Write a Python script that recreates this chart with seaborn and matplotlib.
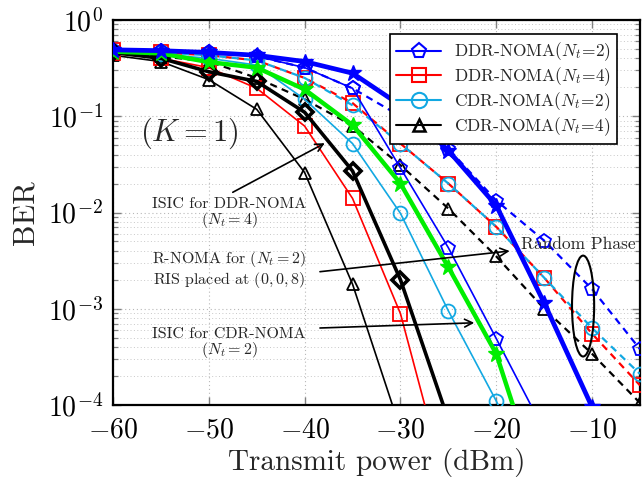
import numpy as np
import pandas as pd
import matplotlib
matplotlib.use("Agg")
import matplotlib.pyplot as plt
from matplotlib.patches import Ellipse
from matplotlib.ticker import FixedLocator, FixedFormatter, LogLocator, NullFormatter
import seaborn as sns

# ---------------- data ----------------
power = [-60, -55, -50, -45, -40, -35, -30, -25, -20, -15, -10, -5]

ddr2_thick = [0.49, 0.48, 0.46, 0.43, 0.37, 0.28, 0.13, 0.044, 0.0118, 1.15e-3, 9.5e-5, 8e-6]
ddr2_rand = [0.49, 0.48, 0.46, 0.42, 0.32, 0.195, 0.10, 0.046, 0.0133, 5.1e-3, 1.6e-3, 3.8e-4]
ddr2_thin = [0.49, 0.48, 0.46, 0.42, 0.32, 0.195, 0.029, 4.3e-3, 4.9e-4, 5.4e-5, None, None]
ddr4 = [0.45, 0.40, 0.32, 0.195, 0.079, 0.014, 8.9e-4, 1.2e-5, None, None, None, None]
ddr4_rand = [0.49, 0.46, 0.43, 0.38, 0.25, 0.137, 0.052, 0.020, 7.1e-3, 2.1e-3, 5.5e-4, 1.6e-4]
cdr2 = [0.48, 0.44, 0.40, 0.34, 0.15, 0.052, 9.8e-3, 9.5e-4, 1.1e-4, 1e-5, None, None]
cdr2_rand = [0.48, 0.46, 0.43, 0.38, 0.25, 0.13, 0.052, 0.020, 7.1e-3, 2.1e-3, 6.3e-4, 2.1e-4]
cdr4 = [0.43, 0.37, 0.24, 0.118, 0.026, 1.8e-3, 5.6e-5, None, None, None, None, None]
cdr4_rand = [0.46, 0.42, 0.37, 0.25, 0.15, 0.08, 0.031, 0.011, 3.5e-3, 1.0e-3, 3.4e-4, 1.05e-4]
isic_ddr4 = [0.46, 0.40, 0.29, 0.23, 0.11, 0.027, 2.0e-3, 7e-5, None, None, None, None]
rnoma2 = [0.47, 0.45, 0.365, 0.32, 0.19, 0.081, 0.02, 2.7e-3, 3.4e-4, 1e-5, None, None]

xticks = [-60, -50, -40, -30, -20, -10]
xtick_labels = [r"$-60$", r"$-50$", r"$-40$", r"$-30$", r"$-20$", r"$-10$"]
legend_labels = [r"DDR-NOMA$(N_t\!=\!2)$", r"DDR-NOMA$(N_t\!=\!4)$",
                 r"CDR-NOMA$(N_t\!=\!2)$", r"CDR-NOMA$(N_t\!=\!4)$"]

# ---------------- style ----------------
sns.set_theme(style="ticks")
plt.rcParams["font.family"] = ["cmr10", "DejaVu Serif"]
plt.rcParams["mathtext.fontset"] = "cm"
plt.rcParams["axes.unicode_minus"] = False
plt.rcParams["axes.formatter.use_mathtext"] = True

BLUE = "#0000ff"
RED = "#ff0000"
CYAN = "#12a8e2"
BLACK = "#000000"
GREEN = "#00ee00"

fig = plt.figure(figsize=(6.44, 4.8), dpi=100)
ax = fig.add_axes([113 / 644, 75 / 480, 527 / 644, 385 / 480])


def draw(vals, color, marker, lw, ls="-", ms=9, mfc="none", mew=1.3, z=3, label=None):
    df = pd.DataFrame({"x": power, "y": vals}).dropna()
    sns.lineplot(data=df, x="x", y="y", ax=ax, color=color, lw=lw, linestyle=ls,
                 marker=marker, markersize=ms, markerfacecolor=mfc,
                 markeredgecolor=color, markeredgewidth=mew, zorder=z,
                 label=label, legend=False)


dash = (3.2, 2.4)
# random-phase dashed curves
draw(cdr4_rand, BLACK, "^", 1.6, ls=(0, dash), ms=8, z=3)
draw(ddr4_rand, RED, "s", 1.6, ls=(0, dash), ms=10, z=3)
draw(cdr2_rand, CYAN, "o", 1.6, ls=(2.5, dash), ms=10, z=3.1)
draw(ddr2_rand, BLUE, "p", 1.6, ls=(0, dash), ms=10, z=3)
# solid curves
draw(cdr4, BLACK, "^", 1.2, ms=8, z=4)
draw(ddr4, RED, "s", 1.2, ms=10, z=4)
draw(cdr2, CYAN, "o", 1.2, ms=10, z=4)
draw(ddr2_thin, BLUE, "p", 1.2, ms=10, z=4)
draw(isic_ddr4, BLACK, "D", 2.6, ms=8, mew=2.6, z=5)
draw(rnoma2, GREEN, "*", 3.2, ms=12, mfc=GREEN, mew=1.0, z=5)
draw(ddr2_thick, BLUE, "*", 3.4, ms=12, mfc=BLUE, mew=1.0, z=6)

ax.set_yscale("log")
ax.set_xlim(-60, -5)
ax.set_ylim(1e-4, 1)

ax.xaxis.set_major_locator(FixedLocator(xticks))
ax.xaxis.set_major_formatter(FixedFormatter(xtick_labels))
ax.yaxis.set_major_locator(LogLocator(base=10, numticks=10))
ax.yaxis.set_minor_locator(LogLocator(base=10, subs=np.arange(2, 10), numticks=20))
ax.yaxis.set_minor_formatter(NullFormatter())

ax.grid(True, which="major", axis="both", color="#b8b8b8", ls=(0, (1, 2.5)), lw=0.8)
ax.grid(True, which="minor", axis="y", color="#c8c8c8", ls=(0, (1, 2.5)), lw=0.7)
ax.set_axisbelow(True)

ax.tick_params(axis="both", which="both", direction="in", top=True, right=True,
               colors="#808080", labelcolor="black", labelsize=20)
ax.tick_params(axis="x", which="major", pad=9)
ax.tick_params(axis="y", which="major", pad=7)
ax.tick_params(which="major", length=6, width=1.0)
ax.tick_params(which="minor", length=3.5, width=0.9)
for s in ax.spines.values():
    s.set_color("black")
    s.set_linewidth(1.6)

ax.set_xlabel("Transmit power (dBm)", fontsize=21, labelpad=3)
ax.set_ylabel("BER", fontsize=22, labelpad=6)

# legend
handles = [
    plt.Line2D([], [], color=BLUE, lw=1.5, marker="p", ms=11, mfc="none", mew=1.5),
    plt.Line2D([], [], color=RED, lw=1.5, marker="s", ms=10, mfc="none", mew=1.5),
    plt.Line2D([], [], color=CYAN, lw=1.5, marker="o", ms=11, mfc="none", mew=1.5),
    plt.Line2D([], [], color=BLACK, lw=1.5, marker="^", ms=9, mfc="none", mew=1.8),
]
leg = ax.legend(handles, legend_labels, loc="upper right", bbox_to_anchor=(0.972, 0.985),
                fontsize=12.5, frameon=True, fancybox=False, framealpha=1,
                edgecolor="black", handlelength=2.6, handleheight=0.6,
                borderpad=0.35, labelspacing=0.12, handletextpad=0.7)
leg.get_frame().set_linewidth(1.2)
leg.set_zorder(10)

# annotations
ax.text(-52.0, 10 ** (-1.18), r"$(K=1)$", fontsize=22, ha="center", va="center")

tfs = 11.5
ax.text(-47.9, 10 ** (-1.91), "ISIC for DDR-NOMA", fontsize=tfs, ha="center", va="center")
ax.text(-47.9, 10 ** (-2.08), r"$(N_t=4)$", fontsize=tfs, ha="center", va="center")
ax.text(-47.9, 10 ** (-2.48), r"R-NOMA for $(N_t=2)$", fontsize=tfs, ha="center", va="center")
ax.text(-47.9, 10 ** (-2.70), r"RIS placed at $(0,0,8)$", fontsize=tfs, ha="center", va="center")
ax.text(-47.9, 10 ** (-3.26), "ISIC for CDR-NOMA", fontsize=tfs, ha="center", va="center")
ax.text(-47.9, 10 ** (-3.43), r"$(N_t=2)$", fontsize=tfs, ha="center", va="center")
ax.text(-17.4, 10 ** (-2.33), "Random Phase", fontsize=12.5, ha="left", va="center", clip_on=False)

arrow = dict(arrowstyle="->", color="black", lw=1.2, mutation_scale=14, shrinkA=0, shrinkB=0)
ax.annotate("", xy=(-37.9, 10 ** (-1.28)), xytext=(-47.5, 10 ** (-1.79)), arrowprops=arrow, zorder=7)
ax.annotate("", xy=(-18.6, 10 ** (-2.40)), xytext=(-38.4, 10 ** (-2.615)), arrowprops=arrow, zorder=7)
ax.annotate("", xy=(-22.3, 10 ** (-3.146)), xytext=(-38.4, 10 ** (-3.2)), arrowprops=arrow, zorder=7)

ell = Ellipse((0.892, 0.257), 0.042, 0.262, transform=ax.transAxes, fill=False,
              edgecolor="black", lw=1.5, zorder=7)
ax.add_patch(ell)

fig.savefig("out.png", dpi=100)
